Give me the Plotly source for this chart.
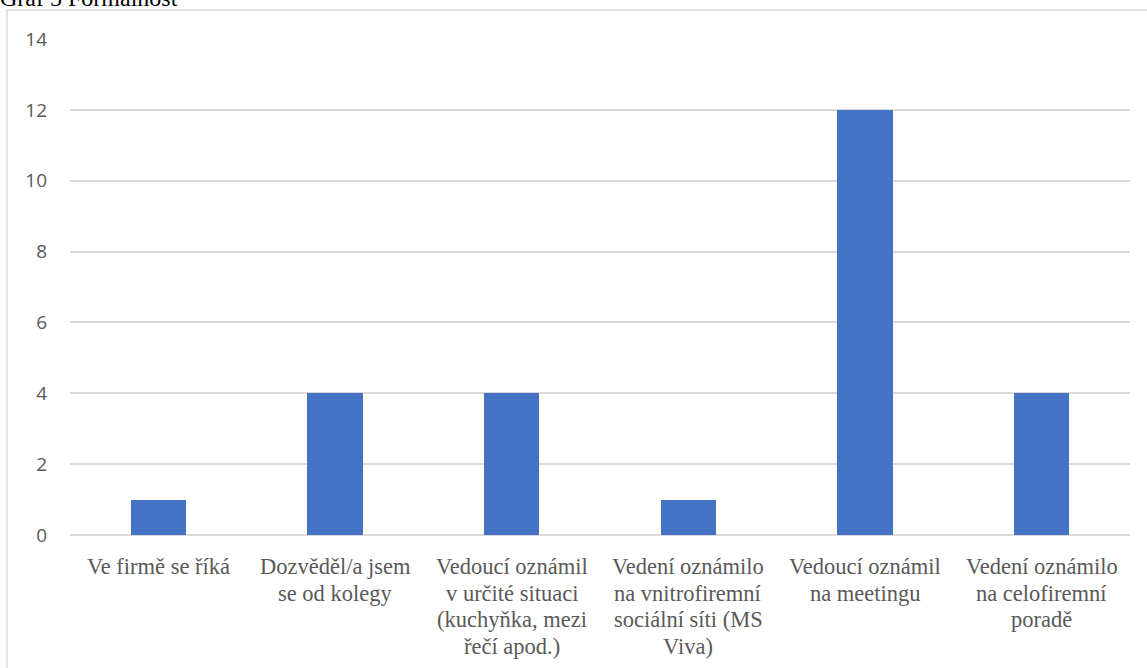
import plotly.graph_objects as go

# Categories (multi-line labels) and counts
categories = [
    "Ve firmě se říká",
    "Dozvěděl/a jsem<br>se od kolegy",
    "Vedoucí oznámil<br>v určité situaci<br>(kuchyňka, mezi<br>řečí apod.)",
    "Vedení oznámilo<br>na vnitrofiremní<br>sociální síti (MS<br>Viva)",
    "Vedoucí oznámil<br>na meetingu",
    "Vedení oznámilo<br>na celofiremní<br>poradě",
]
counts = [1, 4, 4, 1, 12, 4]
y_ticks = [0, 2, 4, 6, 8, 10, 12, 14]
title_text = "Graf 5 Formálnost"

W, H = 1147, 668
L, R, T, B = 70, 17, 39, 133
pw = W - L - R
ph = H - T - B

SERIF = "Liberation Serif"
LABEL_TOP = 552      # top of the first label line, px
LINE_GAP = 26.7      # distance between label lines, px

def px_x(x):
    return (x - L) / pw

def px_y(y):
    return (H - B - y) / ph

n = len(categories)

fig = go.Figure(
    go.Bar(
        x=categories,
        y=counts,
        marker=dict(color="#4472c4", line=dict(width=0)),
        width=0.315,
        hoverinfo="skip",
    )
)

fig.update_layout(
    width=W,
    height=H,
    margin=dict(l=L, r=R, t=T, b=B, pad=0),
    plot_bgcolor="white",
    paper_bgcolor="white",
    showlegend=False,
    bargap=0,
    xaxis=dict(
        type="category",
        range=[-0.5, n - 0.5],
        showticklabels=False,
        showgrid=False,
        showline=False,
        ticks="",
        zeroline=False,
        automargin=False,
    ),
    yaxis=dict(
        range=[0, 14],
        tickmode="array",
        tickvals=y_ticks,
        ticktext=[str(v) for v in y_ticks],
        showgrid=True,
        gridcolor="#d9d9d9",
        gridwidth=1.5,
        zeroline=True,
        zerolinecolor="#d9d9d9",
        zerolinewidth=2,
        showline=False,
        ticks="",
        tickfont=dict(size=19, color="#595959"),
        ticklabelstandoff=22,
        automargin=False,
    ),
)

# Category labels centred under each bar slot, one line at a time
for i, cat in enumerate(categories):
    cx = (i + 0.5) / n
    for j, line in enumerate(cat.split("<br>")):
        fig.add_annotation(
            text=line,
            xref="paper", yref="paper",
            x=cx, y=px_y(LABEL_TOP + j * LINE_GAP),
            xanchor="center", yanchor="top",
            showarrow=False,
            font=dict(family=SERIF, size=22.5, color="#595959"),
        )

# Outer chart frame
fig.add_shape(
    type="rect",
    xref="paper", yref="paper",
    x0=px_x(7), x1=px_x(W + 5),
    y0=px_y(H + 5), y1=px_y(10),
    line=dict(color="#d9d9d9", width=1.5),
    fillcolor="rgba(0,0,0,0)",
    layer="below",
)

# Caption above the frame
fig.add_annotation(
    text=title_text,
    xref="paper", yref="paper",
    x=px_x(-2), y=px_y(13),
    xanchor="left", yanchor="bottom",
    showarrow=False,
    font=dict(family=SERIF, size=24, color="black"),
)

fig.write_html("out.html")
